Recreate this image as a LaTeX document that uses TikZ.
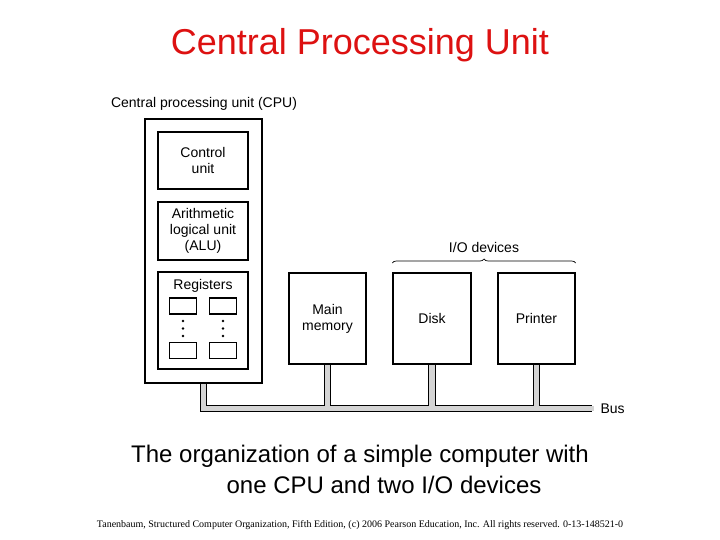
\documentclass[tikz,border=0pt]{standalone}
\usepackage{fontspec}
\setmainfont{Liberation Sans}
\newfontfamily\footfont{Liberation Serif}
\usetikzlibrary{backgrounds}
\usetikzlibrary{decorations.pathreplacing}
\definecolor{titlered}{RGB}{221,17,17}
\definecolor{busgray}{RGB}{212,212,212}

\begin{document}
\begin{tikzpicture}[x=1pt,y=-1pt,
    unit/.style={draw,line width=1.3pt,fill=white,font=\fontsize{14}{16}\selectfont,align=center,inner sep=0pt},
    regbox/.style={draw,line width=1.1pt,minimum width=27pt,minimum height=16pt,inner sep=0pt},
    busedge/.style={line width=7.5pt,draw=black},
    busbody/.style={line width=5.5pt,draw=busgray},
    lbl/.style={font=\fontsize{14}{16}\selectfont}]
    \useasboundingbox (0,0) rectangle (720,540);
    \node[font=\fontsize{36}{40}\selectfont,text=titlered] (title) at (360,45) {Central Processing Unit};
    % CPU and its parts
    \node[lbl] (cpulabel) at (204,104) {Central processing unit (CPU)};
    \node[unit,minimum width=117pt,minimum height=264pt] (cpu) at (203.5,251) {};
    \node[unit,minimum width=90pt,minimum height=57pt] (control) at (203,160.5) {Control\\unit};
    \node[unit,minimum width=90pt,minimum height=58pt] (alu) at (203,231) {Arithmetic\\logical unit\\(ALU)};
    \node[unit,minimum width=90pt,minimum height=97pt] (registers) at (203,320.5) {};
    \node[lbl] (reglabel) at (203,286) {Registers};
    \node[regbox] (r1) at (183,306) {};
    \node[regbox] (r2) at (223,306) {};
    \node[regbox] (r3) at (183,350.5) {};
    \node[regbox] (r4) at (223,350.5) {};
    \foreach \y in {321,328.5,336} {
      \fill (r1.south |- 0,\y) circle (1.3pt);
      \fill (r2.south |- 0,\y) circle (1.3pt);
    }
    % memory and I/O devices
    \node[unit,minimum width=77pt,minimum height=91pt] (memory) at (327.5,318.5) {Main\\memory};
    \node[unit,minimum width=78pt,minimum height=91pt] (disk) at (432,318.5) {Disk};
    \node[unit,minimum width=77pt,minimum height=91pt] (printer) at (536.5,318.5) {Printer};
    \draw[decorate,decoration={brace,amplitude=4pt},line width=0.7pt] (disk.north west |- 0,263) -- (printer.north east |- 0,263) coordinate[midway] (iomid);
    \node[lbl] (iolabel) at (484,247) {I/O devices};
    % bus
    \coordinate (busend) at (592,408.5);
    \node[lbl,anchor=west] (buslabel) at (597,408.5) {Bus};
    \begin{scope}[on background layer]
      \foreach \s in {busedge,busbody} {
        \draw[\s] (cpu.south) -- (cpu.south |- busend) -- (busend);
        \draw[\s] (memory.south) -- (memory.south |- busend);
        \draw[\s] (disk.south) -- (disk.south |- busend);
        \draw[\s] (printer.south) -- (printer.south |- busend);
      }
      \draw[busbody] (busend) -- ++(1.5,0);
    \end{scope}
    % caption
    \node[font=\fontsize{24}{28}\selectfont] (caption1) at (360,456) {The organization of a simple computer with};
    \node[font=\fontsize{24}{28}\selectfont] (caption2) at (384,485) {one CPU and two I/O devices};
    \node[font=\footfont\fontsize{10}{12}\selectfont] (credit) at (360,525) {Tanenbaum, Structured Computer Organization, Fifth Edition, (c) 2006 Pearson Education, Inc. All rights reserved. 0-13-148521-0};
\end{tikzpicture}
\end{document}
